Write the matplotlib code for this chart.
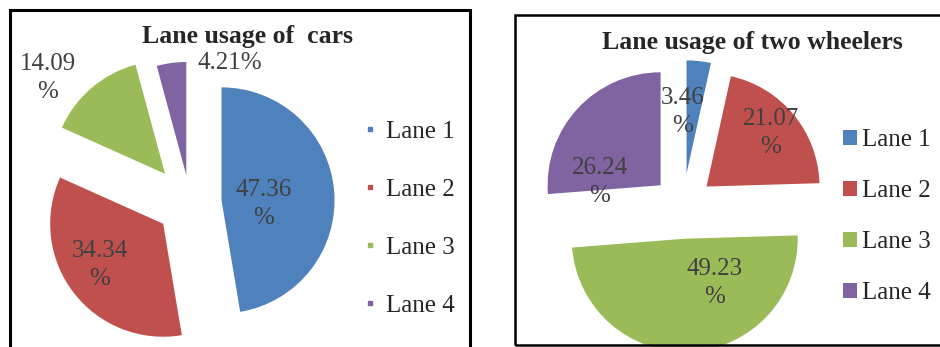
import matplotlib
matplotlib.use("Agg")
import matplotlib.pyplot as plt
from matplotlib.patches import Rectangle, Patch
from matplotlib.lines import Line2D

# data
lanes = ["Lane 1", "Lane 2", "Lane 3", "Lane 4"]
cars = [47.36, 34.34, 14.09, 4.21]
cars_labels = ["47.36\n%", "34.34\n%", "14.09\n%", "4.21%"]
wheelers = [3.46, 21.07, 49.23, 26.24]
wheelers_labels = ["3.46\n%", "21.07\n%", "49.23\n%", "26.24\n%"]
colors = ["#4F81BD", "#C0504D", "#9BBB59", "#8064A2"]

W, H = 940, 347
R = 113  # pie radius in pixels

plt.rcParams["font.family"] = ["Liberation Serif", "DejaVu Serif"]

fig = plt.figure(figsize=(W / 100, H / 100), dpi=100)


def px(x, y):
    # pixel (from top-left) -> figure fraction
    return x / W, 1 - y / H


def pie_axes(x0, x1, cx, cy):
    # axes spanning pixels x0..x1 (full height), 1 data unit = R pixels
    ax = fig.add_axes([x0 / W, 0, (x1 - x0) / W, 1])
    ax.axis("off")
    return ax, ((x0 - cx) / R, (x1 - cx) / R), ((cy - H) / R, cy / R)


# frames
fig.add_artist(Rectangle(px(10, 352), 460 / W, 342 / H, transform=fig.transFigure,
                         fill=False, edgecolor="black", linewidth=2.2))
fig.add_artist(Rectangle(px(515, 345), 440 / W, 330 / H, transform=fig.transFigure,
                         fill=False, edgecolor="black", linewidth=1.8))

# left: cars
ax1, xl, yl = pie_axes(0, 470, 190, 203)
ax1.pie(cars, colors=colors, startangle=90, counterclock=False,
        explode=[0.28, 0.30, 0.34, 0.25], radius=1)
ax1.set_xlim(*xl)
ax1.set_ylim(*yl)
ax1.set_aspect("auto")
ax1.axis("off")

for txt, (x, y) in zip(cars_labels, [(264, 204), (100, 265), (48, 78), (230, 63)]):
    fig.text(*px(x, y), txt, ha="center", va="center", fontsize=18,
             color="#404040", linespacing=1.3)

fig.text(*px(248, 37), "Lane usage of  cars", ha="center", va="center",
         fontsize=18.5, fontweight="bold", color="#262626")

h1 = [Line2D([], [], linestyle="none", marker="s", markersize=3.5,
             color=c) for c in colors]
fig.legend(h1, lanes, loc="upper left", bbox_to_anchor=px(362, 120),
           frameon=False, fontsize=18, handlelength=0.6, handletextpad=0.35,
           labelspacing=1.42, borderpad=0, borderaxespad=0, labelcolor="#262626")

# right: two wheelers
ax2, xl, yl = pie_axes(470, 940, 683, 206)
ax2.pie(wheelers, colors=colors, startangle=90, counterclock=False,
        explode=[0.29, 0.27, 0.29, 0.27], radius=1)
ax2.set_xlim(*xl)
ax2.set_ylim(*yl)
ax2.set_aspect("auto")
ax2.axis("off")

for txt, (x, y) in zip(wheelers_labels, [(683, 112), (771, 133), (715, 283), (600, 182)]):
    fig.text(*px(x, y), txt, ha="center", va="center", fontsize=18,
             color="#404040", linespacing=1.3)

fig.text(*px(752, 43), "Lane usage of two wheelers", ha="center", va="center",
         fontsize=18.5, fontweight="bold", color="#262626")

h2 = [Patch(facecolor=c, edgecolor="none") for c in colors]
fig.legend(h2, lanes, loc="upper left", bbox_to_anchor=px(843, 129),
           frameon=False, fontsize=18, handlelength=0.55, handleheight=0.55,
           handletextpad=0.2, labelspacing=1.16, borderpad=0, borderaxespad=0,
           labelcolor="#262626")

fig.savefig("out.png", dpi=100, facecolor="white")
